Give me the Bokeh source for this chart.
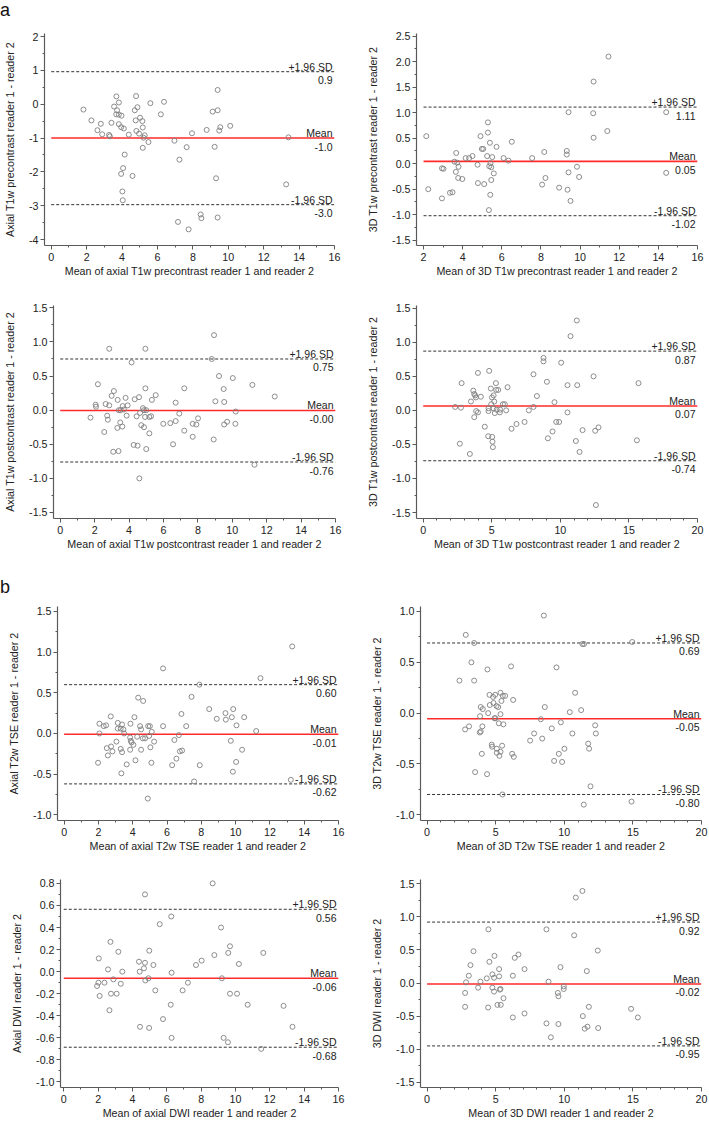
import numpy as np
from bokeh.plotting import figure
from bokeh.layouts import column, row
from bokeh.models import FixedTicker, PrintfTickFormatter, Range1d, ColumnDataSource, Div
from bokeh.core.properties import value
from bokeh.embed import file_html
from bokeh.resources import INLINE

FONT = "Liberation Sans"

# ---------------- data ----------------
# a1: axial T1w precontrast
ax_t1pre_mean = [1.82,2.27,2.61,2.80,2.88,3.27,3.31,3.40,3.68,3.55,3.82,3.72,3.67,3.82,3.97,3.82,3.95,4.10,4.38,4.15,4.06,3.95,4.59,4.02,4.04,4.79,4.87,4.72,4.77,5.02,5.15,5.17,4.81,4.96,5.28,5.21,5.17,5.49,5.60,6.37,6.19,6.96,7.24,7.65,7.95,8.78,7.16,7.76,8.44,8.48,9.40,9.40,9.12,9.40,9.55,9.49,10.11,9.23,9.31,13.40,13.27]
ax_t1pre_diff = [-0.16,-0.48,-0.77,-0.58,-0.89,-0.91,-0.95,-0.55,0.23,-0.07,0.05,-0.18,-0.30,-0.31,-0.34,-0.59,-0.68,-0.72,-0.90,-1.49,-1.89,-2.06,-2.12,-2.58,-2.84,0.24,-0.09,-0.18,-0.48,-0.40,-0.50,-0.69,-0.79,-0.87,-0.92,-0.99,-1.29,-1.12,0.03,0.07,-0.30,-1.08,-1.64,-1.27,-0.86,-0.76,-3.48,-3.70,-3.26,-3.37,-3.35,0.42,-0.22,-0.18,-0.68,-0.78,-0.64,-1.26,-2.19,-0.98,-2.37]
ax_t1pre_limits = [0.96, -1.00, -2.97]
ax_t1pre_labels = ["0.9", "-1.0", "-3.0"]

# a2: 3D T1w precontrast
td_t1pre_mean = [2.14,2.24,2.94,3.02,2.94,3.35,3.48,3.67,3.58,3.72,3.65,3.79,3.77,3.98,4.15,4.33,4.50,4.76,4.78,4.91,4.98,5.05,5.10,5.29,5.29,5.25,5.39,5.36,5.42,5.46,5.51,5.59,5.46,5.41,5.34,5.73,6.09,6.34,6.51,7.55,8.17,8.23,8.06,8.93,9.32,9.32,9.41,9.36,9.51,9.41,9.84,9.95,10.69,10.67,10.69,11.45,11.39,14.40,14.40]
td_t1pre_diff = [0.54,-0.50,-0.09,-0.10,-0.68,-0.57,-0.56,0.21,0.04,0.02,-0.16,-0.06,-0.28,-0.30,0.11,0.11,0.15,-0.02,-0.38,0.54,0.29,0.29,-0.40,0.81,0.61,0.15,0.41,-0.05,0.01,-0.07,0.13,-0.19,-0.32,-0.61,-0.91,0.33,0.11,0.06,0.43,0.11,0.23,-0.28,-0.41,-0.47,0.25,0.18,-0.17,-0.51,-0.73,1.01,-0.06,-0.26,1.61,0.99,0.51,2.10,0.64,1.01,-0.18]
td_t1pre_limits = [1.11, 0.045, -1.02]
td_t1pre_labels = ["1.11", "0.05", "-1.02"]

# a3: axial T1w postcontrast
ax_t1post_mean = [1.76,2.06,2.08,2.19,2.56,2.64,2.73,2.77,2.85,2.85,2.99,3.12,3.34,3.32,3.08,3.39,3.41,3.51,3.49,3.61,3.63,3.70,3.80,3.86,3.92,4.15,4.33,4.44,4.27,4.50,4.58,4.64,4.71,4.81,4.87,4.95,4.95,4.87,5.00,4.93,5.00,5.18,5.28,5.33,5.18,5.55,4.60,5.99,6.40,6.71,6.71,6.92,6.56,7.21,7.21,7.70,7.91,8.01,7.70,8.81,8.94,9.02,9.23,8.92,9.50,9.53,9.53,9.70,10.03,10.20,10.18,11.17,11.29,12.47]
ax_t1post_diff = [-0.11,0.08,0.05,0.38,-0.32,0.09,-0.08,-0.14,0.07,0.90,0.21,0.28,0.15,-0.26,-0.61,-0.60,0.00,0.00,-0.18,-0.24,0.06,0.01,0.18,-0.08,0.07,0.70,0.16,-0.09,-0.51,-0.52,0.19,-0.04,-0.22,0.03,-0.25,0.90,0.32,0.00,0.00,-0.10,-0.57,-0.10,-0.09,0.15,-0.34,0.22,-1.00,-0.20,-0.19,0.11,-0.16,-0.05,-0.50,0.32,-0.30,-0.20,-0.21,-0.12,-0.39,0.75,1.10,0.13,0.50,-0.43,0.31,0.12,-0.21,-0.17,0.47,-0.02,-0.20,0.37,-0.80,0.20]
ax_t1post_limits = [0.75, -0.004, -0.76]
ax_t1post_labels = ["0.75", "-0.00", "-0.76"]

# a4: 3D T1w postcontrast
td_t1post_mean = [2.33,2.75,2.80,2.67,3.40,3.48,3.65,3.72,3.79,3.84,3.72,3.86,3.99,3.99,4.20,4.49,4.76,4.76,4.81,4.93,4.96,4.74,5.01,5.03,5.05,5.08,5.13,5.18,5.13,5.22,5.30,5.32,5.47,5.35,5.61,5.59,5.81,5.95,6.05,6.15,6.44,6.80,7.39,7.70,8.04,8.04,8.29,8.77,8.77,9.02,9.09,9.43,9.57,9.70,9.91,10.06,10.52,10.52,10.74,11.20,11.23,11.13,11.40,11.62,12.42,12.54,12.78,12.59,15.70,15.58]
td_t1post_diff = [0.05,0.04,0.40,-0.49,-0.64,0.13,0.29,0.24,0.22,0.19,-0.10,-0.01,-0.03,0.55,0.20,-0.24,0.03,-0.01,0.58,0.32,0.09,-0.38,0.19,-0.39,-0.46,-0.54,0.22,0.13,0.03,-0.04,0.40,0.30,0.30,0.01,0.01,-0.03,0.09,0.09,0.00,0.34,-0.27,-0.20,-0.17,0.00,0.05,0.53,0.21,0.77,0.72,0.42,-0.41,-0.31,0.12,-0.17,-0.17,0.70,0.37,-0.03,1.09,1.32,0.37,-0.45,-0.61,-0.29,0.50,-0.30,-0.25,-1.39,0.40,-0.44]
td_t1post_limits = [0.87, 0.065, -0.74]
td_t1post_labels = ["0.87", "0.07", "-0.74"]

# b1: axial T2w TSE
ax_t2_mean = [1.98,2.06,2.06,2.31,2.45,2.49,2.55,2.72,2.74,2.82,3.05,3.13,3.13,3.30,3.38,3.46,3.50,3.30,3.38,3.34,3.65,3.85,3.87,3.89,3.93,4.04,3.85,4.10,4.16,4.32,4.26,4.43,4.49,4.49,4.61,4.59,4.72,4.90,5.00,4.96,5.11,5.03,5.09,5.25,4.88,5.77,5.77,6.30,6.43,6.55,6.69,6.75,6.84,6.88,7.12,7.43,7.58,7.89,7.91,8.46,8.90,9.41,9.43,9.86,9.78,9.72,9.84,10.03,10.05,10.50,10.38,11.20,11.45,13.30,13.22]
ax_t2_diff = [-0.36,0.00,0.12,0.09,0.10,-0.18,-0.27,0.21,-0.16,-0.22,-0.10,0.13,0.06,0.06,0.11,0.05,0.00,-0.19,-0.23,-0.49,-0.38,-0.05,0.12,-0.09,-0.11,-0.14,-0.20,0.20,-0.33,0.44,-0.04,0.09,0.05,-0.20,0.40,-0.06,-0.06,0.09,0.09,-0.03,0.02,-0.17,-0.36,-0.10,-0.80,0.80,0.09,-0.39,-0.08,-0.31,-0.02,-0.22,0.24,-0.21,0.09,0.45,-0.59,0.60,-0.39,0.30,0.18,0.25,0.17,0.30,0.20,-0.09,-0.47,-0.35,0.10,0.20,-0.20,0.03,0.68,1.07,-0.57]
ax_t2_limits = [0.60, -0.01, -0.62]
ax_t2_labels = ["0.60", "-0.01", "-0.62"]

# b2: 3D T2w TSE
td_t2_mean = [2.36,2.77,2.82,3.06,3.23,3.43,3.43,3.50,3.84,3.91,3.86,3.91,4.06,4.03,3.99,4.40,4.45,4.37,4.55,4.57,4.71,4.74,4.81,4.84,4.96,4.91,4.98,5.06,5.08,5.08,5.18,5.23,5.27,5.35,5.42,5.35,5.35,5.47,5.52,5.56,5.69,5.49,6.12,6.27,6.20,6.32,7.51,7.80,8.29,8.39,8.51,8.58,9.09,9.26,9.43,9.60,9.75,9.84,10.01,10.40,10.59,10.79,11.23,11.32,11.44,11.42,11.74,11.81,11.91,12.25,12.30,14.95,14.90]
td_t2_diff = [0.32,-0.16,0.77,-0.13,0.50,0.32,0.69,-0.58,-0.19,-0.18,-0.03,0.06,0.04,-0.13,-0.40,0.43,0.00,-0.60,0.18,0.08,-0.31,-0.33,0.16,0.10,0.18,-0.05,-0.05,0.07,-0.35,-0.39,0.06,-0.10,-0.42,0.20,0.12,-0.01,-0.38,-0.32,0.17,-0.11,0.17,-0.80,0.46,0.13,-0.40,-0.43,-0.27,-0.20,-0.06,-0.25,0.96,0.06,-0.15,-0.47,0.45,-0.40,-0.09,-0.48,-0.35,0.01,-0.20,0.20,0.03,0.68,0.68,-0.90,-0.30,-0.35,-0.72,-0.12,-0.20,0.70,-0.87]
td_t2_limits = [0.69, -0.055, -0.80]
td_t2_labels = ["0.69", "-0.05", "-0.80"]

# b3: axial DWI
ax_dwi_mean = [1.94,2.02,2.04,2.09,2.37,2.58,2.72,2.75,2.66,2.89,3.08,3.18,3.32,3.41,4.38,4.42,4.44,4.67,4.73,4.75,4.73,4.93,4.98,4.97,5.22,5.33,5.59,5.78,6.26,6.28,6.23,6.28,6.92,7.23,7.70,8.03,8.67,8.77,9.16,9.21,9.31,9.56,9.58,9.68,9.68,10.09,10.20,10.71,11.50,11.62,12.80,13.32]
ax_dwi_diff = [-0.13,-0.10,0.12,-0.22,-0.10,0.02,0.27,-0.20,-0.35,-0.07,-0.20,0.18,-0.11,0.00,0.09,0.00,-0.50,0.03,0.08,-0.08,0.70,-0.06,0.19,-0.51,0.06,-0.17,0.43,-0.43,0.50,-0.01,-0.30,-0.60,-0.17,-0.10,0.06,0.10,0.80,0.15,0.40,-0.06,-0.60,-0.64,0.17,0.23,-0.20,-0.20,0.07,-0.30,-0.70,0.17,-0.31,-0.50]
ax_dwi_limits = [0.565, -0.06, -0.685]
ax_dwi_labels = ["0.56", "-0.06", "-0.68"]

# b4: 3D DWI
td_dwi_mean = [2.77,2.77,2.84,3.04,3.16,3.38,3.72,3.89,4.35,4.45,4.47,4.54,4.76,4.76,4.88,4.88,4.91,5.13,5.25,5.25,5.30,5.35,5.37,5.57,6.25,6.25,6.39,6.66,7.10,7.10,8.70,8.70,8.85,9.02,9.53,9.57,9.57,9.72,9.96,9.96,10.72,10.84,11.32,11.35,11.49,11.64,11.69,11.79,12.44,12.47,14.87,15.36]
td_dwi_diff = [-0.15,-0.36,0.01,0.11,0.27,0.48,-0.07,0.02,0.07,-0.37,0.81,0.32,0.13,-0.07,0.08,-0.13,0.41,-0.33,0.21,0.10,-0.10,-0.09,-0.33,-0.23,0.11,-0.52,0.38,0.43,0.21,-0.46,0.81,-0.61,0.02,-0.82,-0.15,-0.20,-0.62,0.24,-0.09,-0.05,0.72,1.29,1.39,-0.50,-0.69,0.18,-0.66,-0.36,0.49,-0.68,-0.39,-0.52]
td_dwi_limits = [0.92, -0.015, -0.95]
td_dwi_labels = ["0.92", "-0.02", "-0.95"]

limit_names = ["+1.96 SD", "Mean", "-1.96 SD"]

# tick values
x_ticks_16 = [0, 2, 4, 6, 8, 10, 12, 14, 16]
x_ticks_2_16 = [2, 4, 6, 8, 10, 12, 14, 16]
x_ticks_20 = [0, 5, 10, 15, 20]
y_ticks_a1 = [-4, -3, -2, -1, 0, 1, 2]
y_ticks_a2 = [-1.5, -1.0, -0.5, 0.0, 0.5, 1.0, 1.5, 2.0, 2.5]
y_ticks_15 = [-1.5, -1.0, -0.5, 0.0, 0.5, 1.0, 1.5]
y_ticks_b1 = [-1.0, -0.5, 0.0, 0.5, 1.0, 1.5]
y_ticks_b2 = [-1.0, -0.5, 0.0, 0.5, 1.0]
y_ticks_b3 = [-1.0, -0.8, -0.6, -0.4, -0.2, 0.0, 0.2, 0.4, 0.6, 0.8]

AX_COLOR = "#5a5a5a"
TXT_COLOR = "#222222"


def minor_of(ticks, n):
    out = []
    for a, b in zip(ticks[:-1], ticks[1:]):
        for k in range(1, n):
            out.append(a + (b - a) * k / n)
    return out


def panel(xs, ds, lims, lim_txt, xlab, ylab, xticks, yticks, yfmt, xr, yr,
          w, h, bl, br, bt, bb, yminor=2, xminor=2):
    p = figure(width=w, height=h, x_range=Range1d(*xr), y_range=Range1d(*yr),
               output_backend="svg", toolbar_location=None,
               min_border_left=bl, min_border_right=br,
               min_border_top=bt, min_border_bottom=bb)
    p.outline_line_color = None
    p.grid.visible = False
    p.background_fill_color = "white"
    p.border_fill_color = "white"

    p.xaxis.ticker = FixedTicker(ticks=xticks, minor_ticks=minor_of(xticks, xminor))
    p.yaxis.ticker = FixedTicker(ticks=yticks, minor_ticks=minor_of(yticks, yminor))
    p.yaxis.formatter = PrintfTickFormatter(format=yfmt)
    p.xaxis.formatter = PrintfTickFormatter(format="%d")
    p.xaxis.axis_label = xlab
    p.yaxis.axis_label = ylab
    for ax in (p.xaxis[0], p.yaxis[0]):
        ax.axis_line_color = AX_COLOR
        ax.axis_line_width = 1.2
        ax.major_tick_line_color = AX_COLOR
        ax.minor_tick_line_color = AX_COLOR
        ax.major_tick_in = 0
        ax.major_tick_out = 4
        ax.minor_tick_in = 0
        ax.minor_tick_out = 2
        ax.major_label_text_font = FONT
        ax.major_label_text_font_size = "10.7px"
        ax.major_label_text_color = TXT_COLOR
        ax.axis_label_text_font = FONT
        ax.axis_label_text_font_size = "10.7px"
        ax.axis_label_text_font_style = "normal"
        ax.axis_label_text_color = TXT_COLOR
    p.xaxis.major_label_standoff = 3
    p.xaxis.axis_label_standoff = 1
    p.yaxis.major_label_standoff = 2
    p.yaxis.axis_label_standoff = 10

    x0 = xticks[0]
    x1 = xticks[-1]
    # limits of agreement (dashed) and mean (red)
    p.segment(x0=[x0, x0], x1=[x1, x1], y0=[lims[0], lims[2]], y1=[lims[0], lims[2]],
              line_color="#333333", line_width=1, line_dash="3 2")
    p.segment(x0=[x0], x1=[x1], y0=[lims[1]], y1=[lims[1]],
              line_color="#ff2a2a", line_width=1.6)

    src = ColumnDataSource(dict(x=[x1] * 3, y=lims, top=limit_names, bot=lim_txt))
    p.text(x="x", y="y", text="top", source=src, text_align="right",
           text_baseline="alphabetic", x_offset=-2, y_offset=-5,
           text_font=value(FONT), text_font_size="10.5px", text_color=TXT_COLOR)
    p.text(x="x", y="y", text="bot", source=src, text_align="right",
           text_baseline="alphabetic", x_offset=-2, y_offset=8.5,
           text_font=value(FONT), text_font_size="10.5px", text_color=TXT_COLOR)

    p.scatter(xs, ds, marker="circle", size=5, fill_color=None,
              line_color="#808080", line_width=0.9)
    return p


WL, WR = 354, 355

p1 = panel(ax_t1pre_mean, ax_t1pre_diff, ax_t1pre_limits, ax_t1pre_labels,
           "Mean of axial T1w precontrast reader 1 and reader 2",
           "Axial T1w precontrast reader 1 - reader 2",
           x_ticks_16, y_ticks_a1, "%d", (-0.38, 16), (-4.177, 2.089),
           WL, 260, 44, 20, 13, 35)
p2 = panel(td_t1pre_mean, td_t1pre_diff, td_t1pre_limits, td_t1pre_labels,
           "Mean of 3D T1w precontrast reader 1 and reader 2",
           "3D T1w precontrast reader 1 - reader 2",
           x_ticks_2_16, y_ticks_a2, "%.1f", (1.64, 16), (-1.604, 2.553),
           WR, 260, 62, 12, 13, 35)
p3 = panel(ax_t1post_mean, ax_t1post_diff, ax_t1post_limits, ax_t1post_labels,
           "Mean of axial T1w postcontrast reader 1 and reader 2",
           "Axial T1w postcontrast reader 1 - reader 2",
           x_ticks_16, y_ticks_15, "%.1f", (-0.39, 16), (-1.588, 1.534),
           WL, 292, 53, 19, 25, 54)
p4 = panel(td_t1post_mean, td_t1post_diff, td_t1post_limits, td_t1post_labels,
           "Mean of 3D T1w postcontrast reader 1 and reader 2",
           "3D T1w postcontrast reader 1 - reader 2",
           x_ticks_20, y_ticks_15, "%.1f", (-0.49, 20), (-1.588, 1.54),
           WR, 292, 62, 12, 25, 54, xminor=5)
p5 = panel(ax_t2_mean, ax_t2_diff, ax_t2_limits, ax_t2_labels,
           "Mean of axial T2w TSE reader 1 and reader 2",
           "Axial T2w TSE reader 1 - reader 2",
           x_ticks_16, y_ticks_b1, "%.1f", (-0.385, 16), (-1.070, 1.561),
           WL, 253, 57, 16, 4, 35)
p6 = panel(td_t2_mean, td_t2_diff, td_t2_limits, td_t2_labels,
           "Mean of 3D T2w TSE reader 1 and reader 2",
           "3D T2w TSE reader 1 - reader 2",
           x_ticks_20, y_ticks_b2, "%.1f", (-0.48, 20), (-1.056, 1.049),
           WR, 253, 66, 8, 4, 35, xminor=5)
p7 = panel(ax_dwi_mean, ax_dwi_diff, ax_dwi_limits, ax_dwi_labels,
           "Mean of axial DWI reader 1 and reader 2",
           "Axial DWI reader 1 - reader 2",
           x_ticks_16, y_ticks_b3, "%.1f", (-0.19, 16), (-1.05, 0.835),
           WL, 266, 60, 16, 24, 29)
p8 = panel(td_dwi_mean, td_dwi_diff, td_dwi_limits, td_dwi_labels,
           "Mean of 3D DWI reader 1 and reader 2",
           "3D DWI reader 1 - reader 2",
           x_ticks_20, y_ticks_15, "%.1f", (-0.48, 20), (-1.578, 1.563),
           WR, 266, 66, 8, 24, 29, xminor=5)

label_style = {"font-family": FONT, "font-size": "18px", "color": "#111111",
               "padding": "0", "margin": "0"}
div_a = Div(text="a", width=709, height=20, margin=(0, 0, 0, 0),
            styles=dict(label_style, **{"line-height": "20px"}))
div_b = Div(text="b", width=709, height=30, margin=(0, 0, 0, 0),
            styles=dict(label_style, **{"line-height": "30px"}))

layout = column(div_a, row(p1, p2), row(p3, p4), div_b, row(p5, p6), row(p7, p8))

open("out.html", "w").write(file_html(layout, INLINE))
